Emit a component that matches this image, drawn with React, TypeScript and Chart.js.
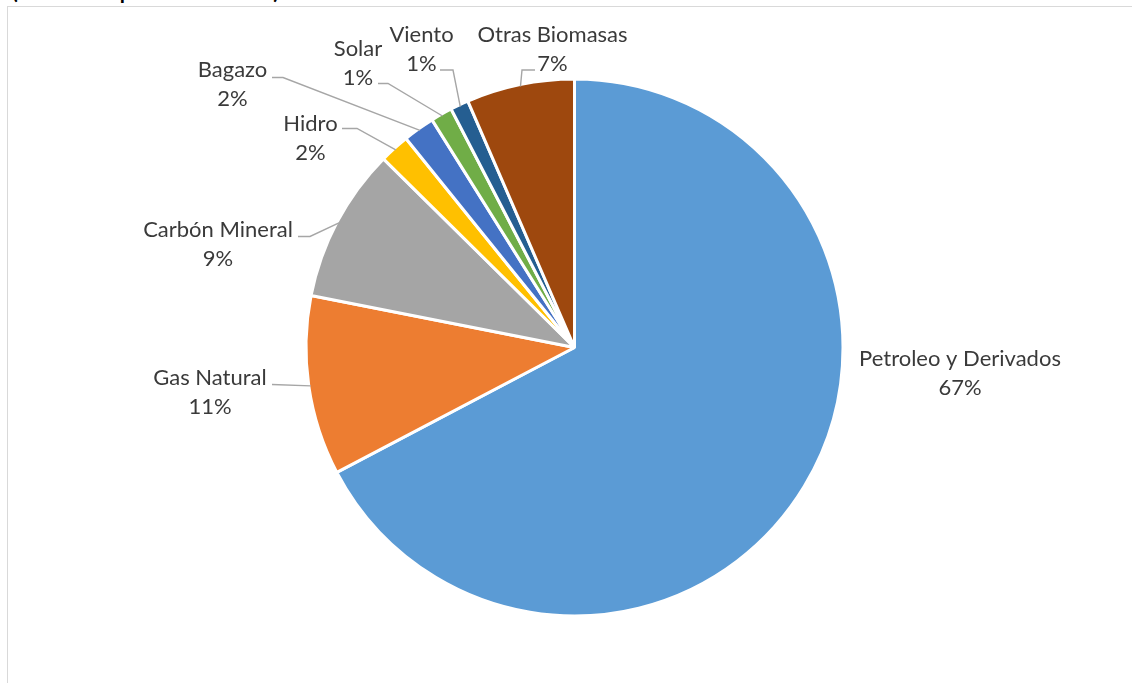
import React, { useEffect, useRef } from "react";
import { Chart, registerables } from "chart.js";

Chart.register(...registerables);

const categories = [
  "Petroleo y Derivados",
  "Gas Natural",
  "Carbón Mineral",
  "Hidro",
  "Bagazo",
  "Solar",
  "Viento",
  "Otras Biomasas",
];
const shares = [67.3, 10.8, 9.3, 1.8, 1.9, 1.3, 1.1, 6.5];
const sliceColors = [
  "#5B9BD5",
  "#ED7D31",
  "#A5A5A5",
  "#FFC000",
  "#4472C4",
  "#70AD47",
  "#255E91",
  "#9E480E",
];

// Label layout (pixels): text centre x, first baseline y, leader-line points before the slice anchor
type LabelPos = { x: number; y: number; leader: number[][] | null };
const labelLayout: LabelPos[] = [
  { x: 960, y: 366, leader: null },
  { x: 210, y: 385, leader: [[272, 384.5]] },
  { x: 218, y: 237, leader: [[298, 236.5], [310, 236.5]] },
  { x: 310.5, y: 131, leader: [[342, 128.5], [357, 128.5]] },
  { x: 232.5, y: 77, leader: [[272, 77.5], [283, 77.5]] },
  { x: 358, y: 56, leader: [[378, 83.5], [388, 83.5]] },
  { x: 421.5, y: 42, leader: [[440, 70], [453, 70]] },
  { x: 552.5, y: 42, leader: [[535, 70], [522, 70]] },
];

const LABEL_FONT = "22px Lato";
const LABEL_COLOR = "#3A3A3A";
const LINE_GAP = 29;

const labelPlugin = {
  id: "pieLabels",
  afterDraw(chart: any) {
    const ctx = chart.ctx as CanvasRenderingContext2D;
    const meta = chart.getDatasetMeta(0);
    const data = chart.data.datasets[0].data as number[];
    const total = data.reduce((a, b) => a + b, 0);
    ctx.save();
    meta.data.forEach((arc: any, i: number) => {
      const p = arc.getProps(["x", "y", "startAngle", "endAngle", "outerRadius"], true);
      const mid = (p.startAngle + p.endAngle) / 2;
      const r = p.outerRadius - 2;
      const ax = p.x + Math.cos(mid) * r;
      const ay = p.y + Math.sin(mid) * r;
      const lay = labelLayout[i];
      if (lay.leader) {
        ctx.beginPath();
        ctx.strokeStyle = "#A6A6A6";
        ctx.lineWidth = 1.4;
        ctx.moveTo(lay.leader[0][0], lay.leader[0][1]);
        for (let k = 1; k < lay.leader.length; k++) ctx.lineTo(lay.leader[k][0], lay.leader[k][1]);
        ctx.lineTo(ax, ay);
        ctx.stroke();
      }
      ctx.fillStyle = LABEL_COLOR;
      ctx.font = LABEL_FONT;
      ctx.textAlign = "center";
      ctx.textBaseline = "alphabetic";
      const pct = Math.round((data[i] / total) * 100) + "%";
      ctx.fillText(String(chart.data.labels[i]), lay.x, lay.y);
      ctx.fillText(pct, lay.x, lay.y + LINE_GAP);
    });
    ctx.restore();
  },
};

export default function App() {
  const canvasRef = useRef<HTMLCanvasElement | null>(null);

  useEffect(() => {
    if (!canvasRef.current) return;
    const chart = new Chart(canvasRef.current, {
      type: "pie",
      data: {
        labels: categories,
        datasets: [
          {
            data: shares,
            backgroundColor: sliceColors,
            borderColor: "#FFFFFF",
            borderWidth: 3,
          },
        ],
      },
      options: {
        responsive: false,
        animation: false,
        devicePixelRatio: 1,
        radius: 268.5,
        layout: { padding: { left: 17, top: 12, right: 0, bottom: 0 } },
        plugins: {
          legend: { display: false },
          tooltip: { enabled: false },
          title: { display: false },
        },
      } as any,
      plugins: [labelPlugin],
    });
    return () => chart.destroy();
  }, []);

  return (
    <div
      style={{
        position: "fixed",
        left: 0,
        top: 0,
        width: 1132,
        height: 683,
        overflow: "hidden",
        background: "#FFFFFF",
      }}
    >
      <div
        style={{
          position: "absolute",
          left: 7,
          top: 6,
          width: 2000,
          height: 2000,
          border: "1.5px solid #D9D9D9",
          boxSizing: "border-box",
        }}
      />
      <div
        style={{
          position: "absolute",
          left: 12,
          top: -19,
          fontFamily: "Lato, sans-serif",
          fontWeight: 700,
          fontSize: 21,
          lineHeight: "20px",
          whiteSpace: "nowrap",
          color: "#000000",
        }}
      >
        (Estructura porcentual 2019)
      </div>
      <canvas
        ref={canvasRef}
        width={1132}
        height={683}
        style={{ position: "absolute", left: 0, top: 0, display: "block" }}
      />
    </div>
  );
}
